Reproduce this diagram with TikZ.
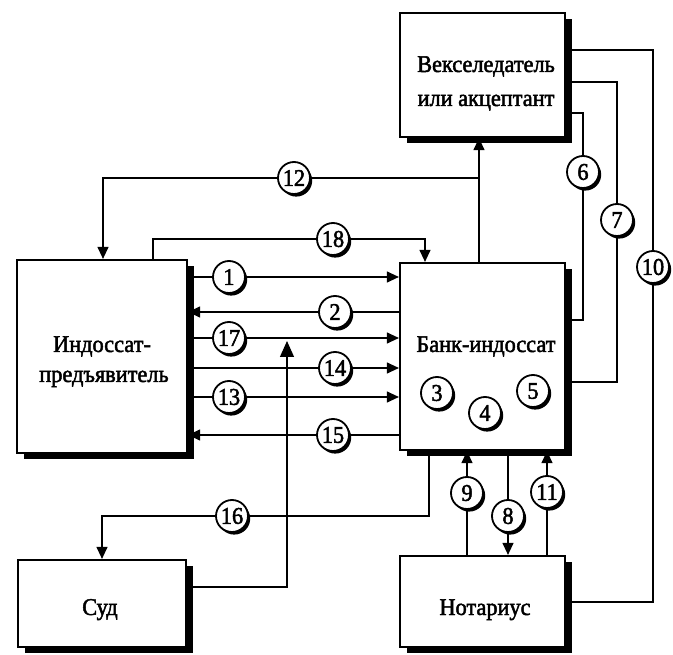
\documentclass[tikz,border=0pt]{standalone}
\usepackage{fontspec}
\newfontfamily\boxfont{Liberation Serif}[FakeStretch=0.93, FakeBold=2]
\usetikzlibrary{positioning, shadows, arrows.meta}
\pgfdeclarelayer{background}
\pgfsetlayers{background,main}

\begin{document}
\begin{tikzpicture}[x=1pt, y=-1pt, >={Triangle[length=12pt, width=11pt]}]
	\tikzstyle{party}=[draw=black, line width=2.2pt, fill=white, inner sep=0pt, drop shadow={shadow xshift=7pt, shadow yshift=-6pt, fill=black, opacity=1}]
	\tikzstyle{stepnum}=[circle, draw=black, line width=1.8pt, fill=white, minimum size=32pt, inner sep=0pt, font=\boxfont\fontsize{24}{24}\selectfont, drop shadow={shadow xshift=2.2pt, shadow yshift=-2.6pt, fill=black, opacity=1}]
	\tikzstyle{caption}=[anchor=base, inner sep=0pt, font=\boxfont\fontsize{24}{26}\selectfont]
	\tikzstyle{flow}=[line width=1.2pt]

	\useasboundingbox (0,0) rectangle (673,655);

	% participants
	\node (drawer) at (482.5,75) [party, minimum width=165pt, minimum height=124pt] {};
	\node (bank) at (482.5,356.5) [party, minimum width=165pt, minimum height=187pt] {};
	\node (holder) at (102,356.5) [party, minimum width=170pt, minimum height=193pt] {};
	\node (court) at (102,603.5) [party, minimum width=168pt, minimum height=87pt] {};
	\node (notary) at (482.5,601.5) [party, minimum width=165pt, minimum height=91pt] {};

	\node (drawertxt1) at (486,72) [caption] {Векселедатель};
	\node (drawertxt2) at (486,106) [caption] {или акцептант};
	\node (banktxt) at (486,352) [caption] {Банк-индоссат};
	\node (holdertxt1) at (102,352) [caption] {Индоссат-};
	\node (holdertxt2) at (104,382) [caption] {предъявитель};
	\node (courttxt) at (100,615) [caption] {Суд};
	\node (notarytxt) at (485,615) [caption] {Нотариус};

	% numbered steps
	\node (n1) at (229,277) [stepnum] {1};
	\node (n2) at (335,312) [stepnum] {2};
	\node (n3) at (437,393) [stepnum] {3};
	\node (n4) at (485,413) [stepnum] {4};
	\node (n5) at (533,391) [stepnum] {5};
	\node (n6) at (583,172) [stepnum] {6};
	\node (n7) at (617,220) [stepnum] {7};
	\node (n8) at (508,516) [stepnum] {8};
	\node (n9) at (467,493) [stepnum] {9};
	\node (n10) at (653,267) [stepnum] {10};
	\node (n11) at (547,492) [stepnum] {11};
	\node (n12) at (294,178) [stepnum] {12};
	\node (n13) at (229,397) [stepnum] {13};
	\node (n14) at (335,368) [stepnum] {14};
	\node (n15) at (333,435) [stepnum] {15};
	\node (n16) at (232,516) [stepnum] {16};
	\node (n17) at (229,338) [stepnum] {17};
	\node (n18) at (333,239) [stepnum] {18};

	% bends
	\coordinate (fork) at (479,178);
	\coordinate (drop12) at (103,178);
	\coordinate (rise18) at (153,239);
	\coordinate (drop18) at (425,239);
	\coordinate (rise16) at (429,516);
	\coordinate (drop16) at (102,516);
	\coordinate (courtout) at (287,587);
	\coordinate (courtup) at (287,341);
	\coordinate (r6top) at (583,113);
	\coordinate (r6bot) at (583,320);
	\coordinate (r7top) at (617,82);
	\coordinate (r7bot) at (617,382);
	\coordinate (r10top) at (653,50);
	\coordinate (r10bot) at (653,602);

	\begin{pgfonlayer}{background}
		\draw [flow, ->] (bank.north -| fork) -- (drawer.south -| fork);
		\draw [flow, ->] (fork) -- (drop12) -- (drop12 |- holder.north);
		\draw [flow, ->] (holder.north -| rise18) -- (rise18) -- (drop18) -- (drop18 |- bank.north);

		\draw [flow, ->] (holder.east |- n1) -- (bank.west |- n1);
		\draw [flow, <-] (holder.east |- n2) -- (bank.west |- n2);
		\draw [flow, ->] (holder.east |- n17) -- (bank.west |- n17);
		\draw [flow, ->] (holder.east |- n14) -- (bank.west |- n14);
		\draw [flow, ->] (holder.east |- n13) -- (bank.west |- n13);
		\draw [flow, <-] (holder.east |- n15) -- (bank.west |- n15);

		\draw [flow, -{Triangle[length=16pt, width=14pt]}] (court.east |- courtout) -- (courtout) -- (courtup);
		\draw [flow, ->] (bank.south -| rise16) -- (rise16) -- (drop16) -- (drop16 |- court.north);

		\draw [flow] (drawer.east |- r6top) -- (r6top) -- (r6bot) -- (bank.east |- r6bot);
		\draw [flow] (drawer.east |- r7top) -- (r7top) -- (r7bot) -- (bank.east |- r7bot);
		\draw [flow] (drawer.east |- r10top) -- (r10top) -- (r10bot) -- (notary.east |- r10bot);

		\draw [flow, ->] (notary.north -| n9) -- (bank.south -| n9);
		\draw [flow, ->] (bank.south -| n8) -- (notary.north -| n8);
		\draw [flow, ->] (notary.north -| n11) -- (bank.south -| n11);
	\end{pgfonlayer}
\end{tikzpicture}
\end{document}
